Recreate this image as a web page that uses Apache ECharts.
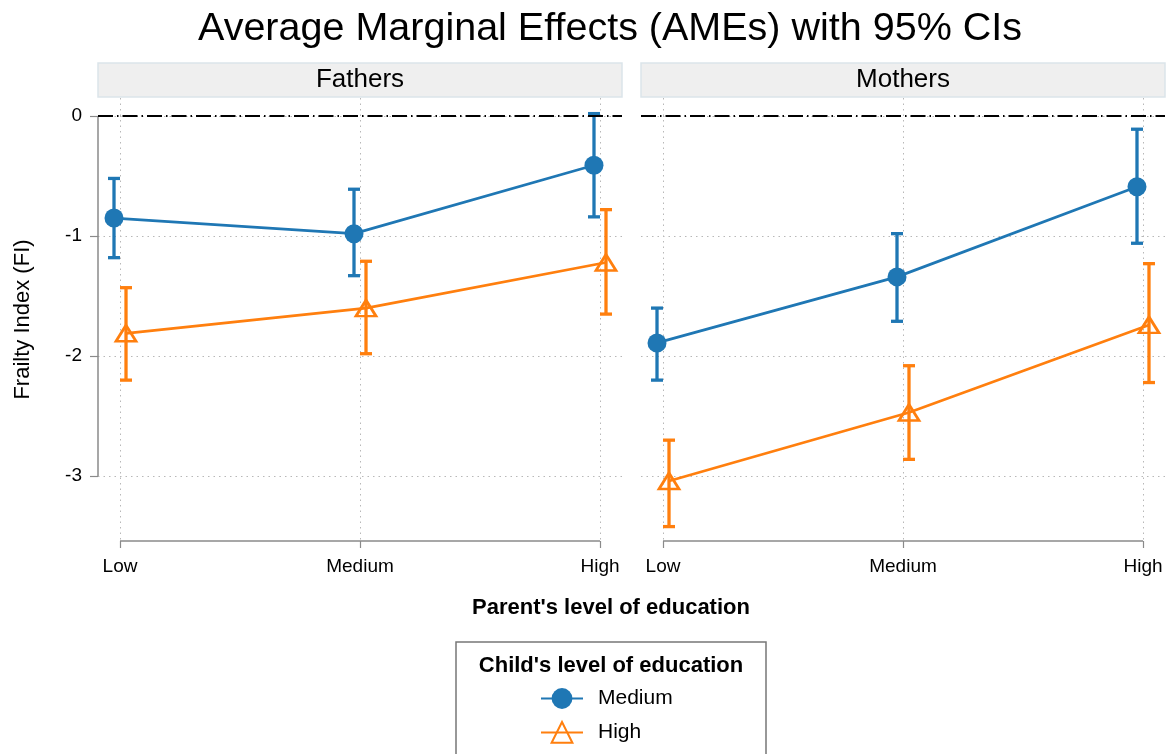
<!DOCTYPE html>
<html>
<head>
<meta charset="utf-8">
<script src="https://cdn.jsdelivr.net/npm/echarts@6/dist/echarts.min.js"></script>
<style>
  html, body { margin: 0; padding: 0; background: #fff; }
  #main { width: 1172px; height: 754px; }
</style>
</head>
<body>
<div id="main"></div>
<script>
// Parent's education levels (x axis) and facet panels
const categories = ['Low', 'Medium', 'High'];
const panels = ['Fathers', 'Mothers'];
const seriesNames = ['Medium', 'High'];   // child's level of education
const yTicks = [0, -1, -2, -3];
const xTicks = [0, 1, 2];

// Average marginal effects and 95% CI bounds, one value per parent category
const fathersMedium   = [-0.85, -0.98, -0.41];
const fathersMediumLo = [-1.18, -1.33, -0.84];
const fathersMediumHi = [-0.52, -0.61,  0.02];
const fathersHigh     = [-1.81, -1.60, -1.22];
const fathersHighLo   = [-2.20, -1.98, -1.65];
const fathersHighHi   = [-1.43, -1.21, -0.78];

const mothersMedium   = [-1.89, -1.34, -0.59];
const mothersMediumLo = [-2.20, -1.71, -1.06];
const mothersMediumHi = [-1.60, -0.98, -0.11];
const mothersHigh     = [-3.04, -2.47, -1.74];
const mothersHighLo   = [-3.42, -2.86, -2.22];
const mothersHighHi   = [-2.70, -2.08, -1.23];

const panelData = [
  { est: [fathersMedium, fathersHigh], lo: [fathersMediumLo, fathersHighLo], hi: [fathersMediumHi, fathersHighHi] },
  { est: [mothersMedium, mothersHigh], lo: [mothersMediumLo, mothersHighLo], hi: [mothersMediumHi, mothersHighHi] }
];

const FONT = '"Liberation Sans", Arial, Helvetica, sans-serif';
const COLORS = ['#1f77b4', '#ff7f0e'];
const DODGE = [-0.025, 0.025];
const X_MIN = -0.0917, X_MAX = 2.0917;
const Y_MIN = -3.54, Y_MAX = 0.15;
const AXIS_GRAY = '#8a8a8a';
const GRID_GRAY = '#b8b8b8';

const grids = [
  { left: 98, top: 98, width: 524, height: 443 },
  { left: 641, top: 98, width: 524, height: 443 }
];

function renderErrorBar(params, api) {
  const x = api.value(0);
  const lo = api.coord([x, api.value(1)]);
  const hi = api.coord([x, api.value(2)]);
  const half = 6;
  const style = { stroke: api.visual('color'), lineWidth: 3.3, fill: null };
  return {
    type: 'group',
    children: [
      { type: 'line', shape: { x1: lo[0], y1: lo[1], x2: hi[0], y2: hi[1] }, style },
      { type: 'line', shape: { x1: lo[0] - half, y1: lo[1], x2: lo[0] + half, y2: lo[1] }, style },
      { type: 'line', shape: { x1: hi[0] - half, y1: hi[1], x2: hi[0] + half, y2: hi[1] }, style }
    ]
  };
}

// Partial axis lines: x axis spans first to last category, y axis spans the labelled ticks
function makeAxisLineRenderer(withY) {
  return function (params, api) {
    const style = { stroke: AXIS_GRAY, lineWidth: 1.5, fill: null };
    const a = api.coord([xTicks[0], Y_MIN]);
    const b = api.coord([xTicks[xTicks.length - 1], Y_MIN]);
    const children = [{ type: 'line', shape: { x1: a[0], y1: a[1], x2: b[0], y2: b[1] }, style }];
    if (withY) {
      const c = api.coord([X_MIN, yTicks[0]]);
      const d = api.coord([X_MIN, yTicks[yTicks.length - 1]]);
      children.push({ type: 'line', shape: { x1: c[0], y1: c[1], x2: d[0], y2: d[1] }, style });
    }
    return { type: 'group', children };
  };
}

const xAxes = panels.map((p, i) => ({
  gridIndex: i,
  type: 'value',
  min: X_MIN,
  max: X_MAX,
  axisLine: { show: false, onZero: false },
  axisTick: { show: true, customValues: xTicks, length: 7, lineStyle: { color: AXIS_GRAY, width: 1.2 } },
  axisLabel: {
    customValues: xTicks,
    formatter: v => categories[Math.round(v)],
    color: '#000', fontSize: 19, fontFamily: FONT, margin: 16
  },
  splitLine: { show: true, lineStyle: { color: GRID_GRAY, type: [1.5, 4], width: 1 } }
}));

const yAxes = panels.map((p, i) => ({
  gridIndex: i,
  type: 'value',
  min: Y_MIN,
  max: Y_MAX,
  axisLine: { show: false, onZero: false },
  axisTick: { show: i === 0, customValues: yTicks, length: 8, lineStyle: { color: AXIS_GRAY, width: 1.2 } },
  axisLabel: { show: i === 0, customValues: yTicks, color: '#000', fontSize: 19, fontFamily: FONT, margin: 16 },
  splitLine: { show: true, lineStyle: { color: GRID_GRAY, type: [1.5, 4], width: 1 } },
  name: i === 0 ? 'Frailty Index (FI)' : '',
  nameLocation: 'middle',
  nameGap: 64,
  nameTextStyle: { color: '#000', fontSize: 22, fontFamily: FONT }
}));

const series = [];
panels.forEach((p, i) => {
  series.push({
    type: 'custom',
    xAxisIndex: i, yAxisIndex: i,
    silent: true, z: 1,
    renderItem: makeAxisLineRenderer(i === 0),
    data: [[xTicks[0], yTicks[0]]]
  });
  seriesNames.forEach((name, k) => {
    const d = panelData[i];
    series.push({
      type: 'custom',
      name: name + ' CI',
      xAxisIndex: i, yAxisIndex: i,
      silent: true, z: 3,
      itemStyle: { color: COLORS[k] },
      encode: { x: 0, y: [1, 2] },
      renderItem: renderErrorBar,
      data: categories.map((c, j) => [j + DODGE[k], d.lo[k][j], d.hi[k][j]])
    });
  });
  seriesNames.forEach((name, k) => {
    const d = panelData[i];
    const s = {
      type: 'line',
      name: name,
      xAxisIndex: i, yAxisIndex: i,
      z: 4,
      silent: true,
      symbol: k === 0 ? 'circle' : 'triangle',
      symbolSize: k === 0 ? 19 : [20, 16],
      lineStyle: { color: COLORS[k], width: 2.7 },
      itemStyle: k === 0
        ? { color: COLORS[k] }
        : { color: 'rgba(255,255,255,0)', borderColor: COLORS[k], borderWidth: 2.7 },
      emphasis: { disabled: true },
      data: categories.map((c, j) => [j + DODGE[k], d.est[k][j]])
    };
    if (k === 0) {
      s.markLine = {
        silent: true, symbol: 'none', animation: false,
        label: { show: false },
        lineStyle: { color: '#000', type: [15, 4, 1.5, 4], width: 2 },
        data: [{ yAxis: 0 }]
      };
    }
    series.push(s);
  });
});

const graphics = [];
panels.forEach((p, i) => {
  const g = grids[i];
  graphics.push({
    type: 'rect', silent: true,
    shape: { x: g.left, y: 63, width: g.width, height: 34 },
    style: { fill: '#efefef', stroke: '#dbe5ea', lineWidth: 1.5 }
  });
  graphics.push({
    type: 'text', silent: true,
    x: g.left + g.width / 2, y: 80,
    style: { text: p, fill: '#000', font: '26px ' + FONT, textAlign: 'center', textVerticalAlign: 'middle' }
  });
});
graphics.push({
  type: 'text', silent: true, x: 610, y: 29,
  style: { text: 'Average Marginal Effects (AMEs) with 95% CIs', fill: '#000', font: '39.5px ' + FONT, textAlign: 'center', textVerticalAlign: 'middle' }
});
graphics.push({
  type: 'text', silent: true, x: 611, y: 608,
  style: { text: "Parent's level of education", fill: '#000', font: 'bold 22px ' + FONT, textAlign: 'center', textVerticalAlign: 'middle' }
});
graphics.push({
  type: 'rect', silent: true,
  shape: { x: 456, y: 642, width: 310, height: 140 },
  style: { fill: 'none', stroke: '#777', lineWidth: 1.5 }
});
graphics.push({
  type: 'text', silent: true, x: 611, y: 666,
  style: { text: "Child's level of education", fill: '#000', font: 'bold 22px ' + FONT, textAlign: 'center', textVerticalAlign: 'middle' }
});

const chart = echarts.init(document.getElementById('main'), null, { renderer: 'canvas' });
chart.setOption({
  animation: false,
  backgroundColor: '#fff',
  textStyle: { fontFamily: FONT },
  grid: grids,
  xAxis: xAxes,
  yAxis: yAxes,
  legend: {
    data: seriesNames,
    orient: 'vertical',
    left: 540, top: 688,
    padding: 0,
    itemWidth: 42, itemHeight: 26, itemGap: 12,
    selectedMode: false,
    textStyle: { fontSize: 21, color: '#000', fontFamily: FONT, padding: [0, 0, 0, 10] }
  },
  graphic: graphics,
  series: series
});
</script>
</body>
</html>
